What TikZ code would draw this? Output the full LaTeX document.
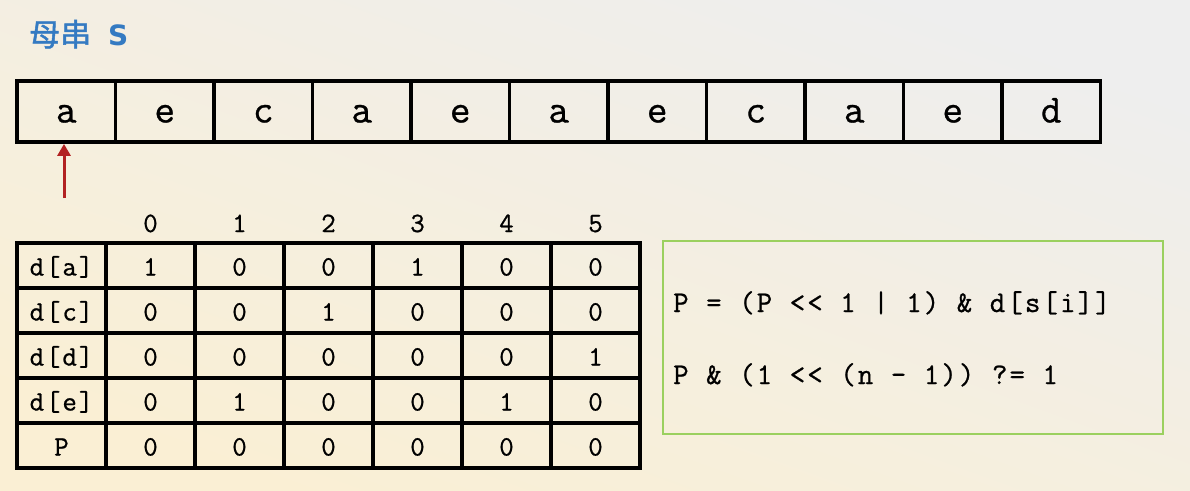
\documentclass[tikz,border=0pt]{standalone}
\usepackage{fontspec}
\setmonofont{Latin Modern Mono}[FakeBold=0.8]
\newfontfamily\codefont{Latin Modern Mono}[LetterSpace=7, FakeBold=0.8]
\newfontfamily\cjkfont{Noto Sans CJK SC}[FakeBold=1.5]
\newfontfamily\titlesans{DejaVu Sans}
\usetikzlibrary{arrows.meta}
\definecolor{bgtop}{RGB}{238,238,238}
\definecolor{bgbot}{RGB}{250,239,212}
\definecolor{titleblue}{RGB}{52,122,194}
\definecolor{arrowred}{RGB}{178,34,34}
\definecolor{boxgreen}{RGB}{155,208,95}
\tikzset{
  strcell/.style={draw=black, line width=3.8pt, minimum width=98.5pt, minimum height=61pt,
    inner sep=0pt, text height=22pt, text depth=0pt,
    font=\ttfamily\fontsize{40}{40}\selectfont},
  tabcell/.style={draw=black, line width=3.8pt, minimum width=89pt, minimum height=45pt,
    inner sep=0pt, text height=20pt, text depth=0pt,
    font=\codefont\fontsize{28}{28}\selectfont},
  colhead/.style={inner sep=0pt, text height=20pt, text depth=0pt,
    font=\codefont\fontsize{28}{28}\selectfont},
  codeline/.style={anchor=base west, inner sep=0pt,
    font=\codefont\fontsize{30}{30}\selectfont},
  greenbox/.style={draw=boxgreen, line width=2.5pt, minimum width=500pt, minimum height=193pt, inner sep=0pt},
  redarrow/.style={draw=arrowred, line width=3pt, -{Triangle[width=13pt,length=12pt]}, arrowred}
}
\begin{document}
\begin{tikzpicture}[x=1pt,y=-1pt]
\useasboundingbox (0,0) rectangle (1190,490);
\shade[shading=axis, top color=bgtop, bottom color=bgbot, shading angle=-20] (0,0) rectangle (1190,490);

% title
\node[anchor=base west, inner sep=0pt, text=titleblue, font=\cjkfont\fontsize{31}{31}\selectfont] (title) at (29,46) {母串};
\node[anchor=base west, inner sep=0pt, text=titleblue, font=\titlesans\bfseries\fontsize{28}{28}\selectfont] (titleS) at (108,45) {S};

% string S
\foreach \ch [count=\i from 0] in {a,e,c,a,e,a,e,c,a,e,d} {
  \node[strcell] (s\i) at ({66.25+98.5*\i},111.5) {\ch};
}

% red arrow
\coordinate (tail) at (64,198);
\draw[redarrow] (tail) -- (tail |- s0.south);

% column headers
\foreach \c in {0,...,5} {
  \node[colhead] (h\c) at ({150.5+89*\c},222) {\c};
}

% table
\foreach \lab [count=\r from 0] in {d[a],d[c],d[d],d[e],P} {
  \node[tabcell] (r\r c0) at (61.5,{265.5+45*\r}) {\lab};
}
\foreach \row [count=\r from 0] in {{1,0,0,1,0,0},{0,0,1,0,0,0},{0,0,0,0,0,1},{0,1,0,0,1,0},{0,0,0,0,0,0}} {
  \foreach \v [count=\c from 1] in \row {
    \node[tabcell] (r\r c\c) at ({61.5+89*\c},{265.5+45*\r}) {\v};
  }
}

% green formula box
\node[greenbox] (fbox) at (913,337.5) {};
\node[codeline] (f1) at (673,312) {P = (P << 1 | 1) \& d[s[i]]};
\node[codeline] (f2) at (673,384) {P \& (1 << (n - 1)) ?= 1};
\end{tikzpicture}
\end{document}
